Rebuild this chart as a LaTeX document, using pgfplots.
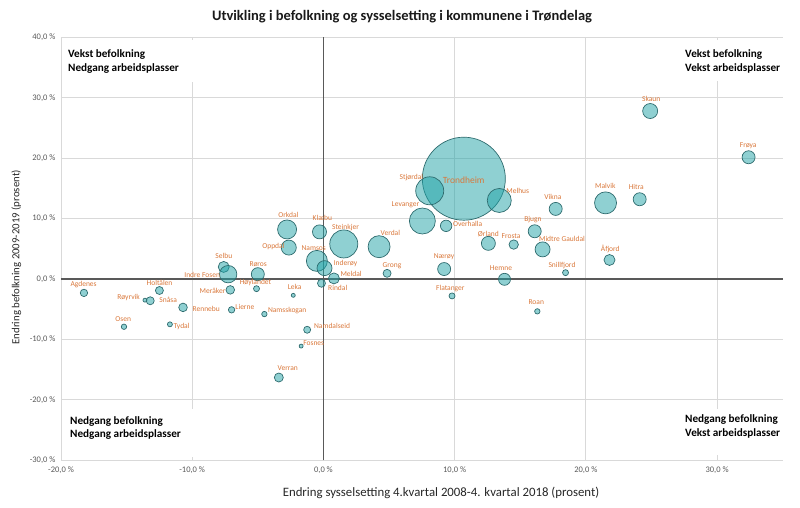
\documentclass[border=0pt]{standalone}
\usepackage{pgfplots}
\pgfplotsset{compat=1.18}
\usepackage{fontspec}
\setmainfont{Carlito}
\definecolor{bub}{HTML}{1FA2A6}
\definecolor{edge}{HTML}{2E6B6E}
\definecolor{lab}{HTML}{D9773A}
\definecolor{tickc}{HTML}{595959}
\definecolor{gridc}{HTML}{D9D9D9}
\tikzset{lb/.style={text=lab, font=\fontsize{7.5}{9}\selectfont, inner sep=0pt}}
\begin{document}
\begin{tikzpicture}[x=1pt,y=1pt]
\path[use as bounding box] (0,0) rectangle (800,508);
\begin{axis}[
  at={(61pt,47.7pt)}, anchor=south west, scale only axis,
  width=721.7pt, height=423pt,
  xmin=-20, xmax=35, ymin=-30, ymax=40,
  xtick={-20,-10,0,10,20,30}, ytick={-30,-20,-10,0,10,20,30,40},
  xticklabels={{-20,0 \%},{-10,0 \%},{0,0 \%},{10,0 \%},{20,0 \%},{30,0 \%}},
  yticklabels={{-30,0 \%},{-20,0 \%},{-10,0 \%},{0,0 \%},{10,0 \%},{20,0 \%},{30,0 \%},{40,0 \%}},
  axis line style={draw=none},
  grid=major, major grid style={draw=gridc, line width=0.8pt},
  major tick length=0pt,
  ticklabel style={font=\fontsize{8.5}{10}\selectfont, text=tickc},
  xticklabel style={yshift=-3pt},
  yticklabel style={xshift=-2pt},
  xlabel={Endring sysselsetting 4.kvartal 2008-4. kvartal 2018 (prosent)},
  ylabel={Endring befolkning 2009-2019 (prosent)},
  xlabel style={at={(axis description cs:0.5265,-0.0773)}, anchor=center, font=\fontsize{12.8}{15}\selectfont, text=black!85},
  ylabel style={at={(axis description cs:-0.062,0.48)}, anchor=center, font=\fontsize{10.8}{13}\selectfont, text=black!85},
  clip=false,
]
\draw[tickc, line width=1.4pt] (axis cs:0,-30) -- (axis cs:0,40);
\draw[tickc, line width=1.4pt] (axis cs:-20,0) -- (axis cs:35,0);
\addplot[scatter, only marks, mark=*,
  scatter/use mapped color={draw=edge, fill=bub, fill opacity=0.5, line width=0.7pt},
  visualization depends on={\thisrow{r}\as\rad},
  scatter/@pre marker code/.append style={/tikz/mark size=\rad}]
  table[x=x, y=y] {
x y r
10.7 16.6 41.5
-18.25 -2.3 3.7
-15.2 -7.9 2.7
-13.6 -3.5 2
-13.2 -3.6 4
-12.5 -1.9 4
-11.7 -7.5 2.5
-10.7 -4.7 4.3
-7.6 2.0 5.5
-7.26 0.8 8.7
-7.1 -1.8 4.3
-5.0 0.8 6.5
-5.1 -1.6 3
-7.0 -5.1 3.2
-4.5 -5.8 2.7
-2.77 8.2 9.5
-2.64 5.2 7.5
-0.3 7.8 7
-0.5 3.0 10.5
0.08 1.8 7.5
0.8 0.1 5.5
-0.15 -0.7 4
-2.3 -2.7 2
-1.24 -8.4 3.5
1.55 5.8 14
4.24 5.35 11
4.85 0.94 4
7.54 9.6 13
8.1 14.6 14
13.4 13.0 12
9.35 8.8 5.7
12.57 5.9 7
14.5 5.7 4.7
9.2 1.65 6.5
13.8 -0.05 6
9.8 -2.8 3
16.3 -5.35 2.7
-3.4 -16.3 4.5
-1.7 -11.1 2
17.7 11.6 6.5
21.5 12.6 11
24.1 13.2 6.5
16.1 7.9 6.5
16.7 4.9 7.5
18.45 1.05 3
21.8 3.15 5.5
24.9 27.8 7.5
32.4 20.15 6.5
};
\end{axis}
\begin{axis}[
  at={(61pt,47.7pt)}, anchor=south west, scale only axis,
  width=721.7pt, height=423pt,
  xmin=-20, xmax=35, ymin=-30, ymax=40,
  hide axis, clip=false,
]
\node[lb] at (axis cs:-18.28,-0.99) {Agdenes};
\node[lb] at (axis cs:-12.49,-0.66) {Holtålen};
\node[lb] at (axis cs:-14.85,-3.10) {Røyrvik};
\node[lb] at (axis cs:-11.83,-3.53) {Snåsa};
\node[lb] at (axis cs:-8.93,-4.92) {Rennebu};
\node[lb] at (axis cs:-15.26,-6.67) {Osen};
\node[lb] at (axis cs:-10.81,-7.78) {Tydal};
\node[lb] at (axis cs:-7.59,3.81) {Selbu};
\node[lb] at (axis cs:-9.24,0.66) {Indre Fosen};
\node[lb] at (axis cs:-8.45,-1.94) {Meråker};
\node[lb] at (axis cs:-4.97,2.48) {Røros};
\node[lb] at (axis cs:-5.18,-0.66) {Høylandet};
\node[lb] at (axis cs:-5.99,-4.64) {Lierne};
\node[lb] at (axis cs:-2.76,-5.30) {Namsskogan};
\node[lb] at (axis cs:-2.19,-1.32) {Leka};
\node[lb] at (axis cs:-3.81,5.30) {Oppdal};
\node[lb] at (axis cs:-2.67,10.60) {Orkdal};
\node[lb] at (axis cs:-0.08,10.05) {Klæbu};
\node[lb] at (axis cs:-0.74,5.08) {Namsos};
\node[lb] at (axis cs:1.68,8.49) {Steinkjer};
\node[lb] at (axis cs:1.68,2.60) {Inderøy};
\node[lb] at (axis cs:2.11,0.83) {Meldal};
\node[lb] at (axis cs:1.09,-1.44) {Rindal};
\node[lb] at (axis cs:5.10,7.57) {Verdal};
\node[lb] at (axis cs:5.23,2.27) {Grong};
\node[lb] at (axis cs:6.25,12.25) {Levanger};
\node[lb] at (axis cs:6.70,16.84) {Stjørdal};
\node[lb, font=\fontsize{9.5}{11}\selectfont] at (axis cs:10.69,16.39) {Trondheim};
\node[lb] at (axis cs:14.81,14.62) {Melhus};
\node[lb] at (axis cs:10.99,9.06) {Overhalla};
\node[lb] at (axis cs:12.57,7.45) {Ørland};
\node[lb] at (axis cs:14.30,7.12) {Frosta};
\node[lb] at (axis cs:9.19,3.69) {Nærøy};
\node[lb] at (axis cs:13.53,1.87) {Hemne};
\node[lb] at (axis cs:9.67,-1.54) {Flatanger};
\node[lb] at (axis cs:0.66,-7.73) {Namdalseid};
\node[lb] at (axis cs:-0.74,-10.55) {Fosnes};
\node[lb] at (axis cs:-2.72,-14.74) {Verran};
\node[lb] at (axis cs:16.22,-3.81) {Roan};
\node[lb] at (axis cs:17.49,13.63) {Vikna};
\node[lb] at (axis cs:15.97,9.77) {Bjugn};
\node[lb] at (axis cs:18.18,6.57) {Midtre Gauldal};
\node[lb] at (axis cs:18.18,2.27) {Snillfjord};
\node[lb] at (axis cs:21.86,4.92) {Åfjord};
\node[lb] at (axis cs:21.48,15.35) {Malvik};
\node[lb] at (axis cs:23.84,15.18) {Hitra};
\node[lb] at (axis cs:24.98,29.75) {Skaun};
\node[lb] at (axis cs:32.37,22.14) {Frøya};
\end{axis}
\fill[white] (64,508-40) rectangle (230,508-82);
\fill[white] (681,508-40) rectangle (784,508-81);
\fill[white] (66,508-409) rectangle (230,508-457);
\fill[white] (681,508-409) rectangle (784,508-455);
\tikzset{qd/.style={anchor=base west, inner sep=0pt, font=\bfseries\fontsize{11.2}{14}\selectfont}}
\node[qd] at (68,508-57.8) {Vekst befolkning};
\node[qd] at (68,508-71.8) {Nedgang arbeidsplasser};
\node[qd] at (685,508-57.8) {Vekst befolkning};
\node[qd] at (685,508-71.8) {Vekst arbeidsplasser};
\node[qd] at (70,508-424.5) {Nedgang befolkning};
\node[qd] at (70,508-438) {Nedgang arbeidsplasser};
\node[qd] at (685,508-423) {Nedgang befolkning};
\node[qd] at (685,508-436.7) {Vekst arbeidsplasser};
\node[font=\bfseries\fontsize{14.5}{17}\selectfont, text=black!90] at (402,508-17) {Utvikling i befolkning og sysselsetting i kommunene i Trøndelag};
\end{tikzpicture}
\end{document}
